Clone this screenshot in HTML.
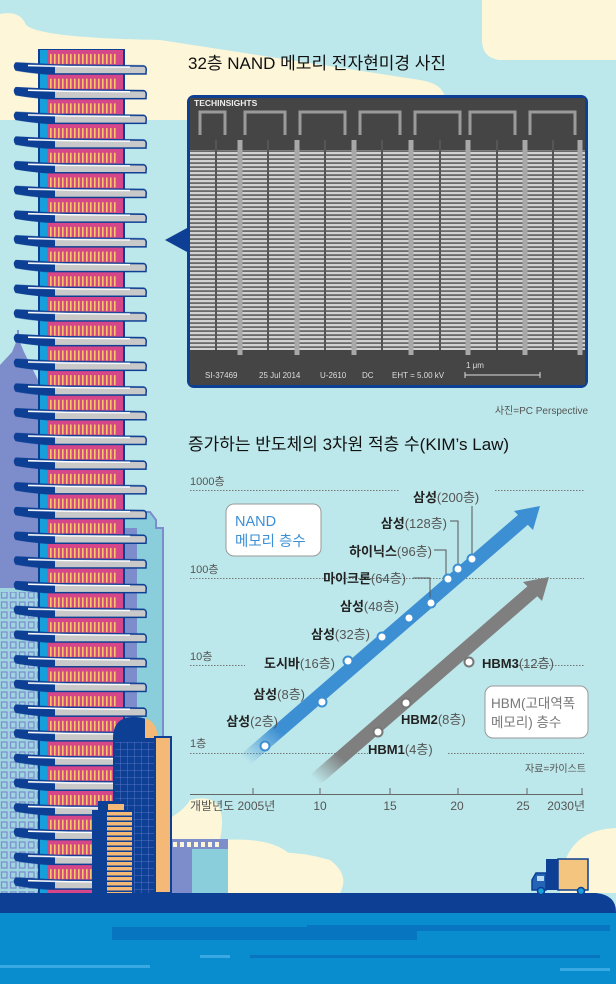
<!DOCTYPE html>
<html><head><meta charset="utf-8"><style>
html,body{margin:0;padding:0}
body{width:616px;height:984px;overflow:hidden;background:#bde8eb;font-family:"Liberation Sans","Noto Sans CJK KR",sans-serif}
svg{display:block}
</style></head><body>
<svg width="616" height="984" viewBox="0 0 616 984" xmlns="http://www.w3.org/2000/svg" font-family="'Liberation Sans','Noto Sans CJK KR',sans-serif">
<defs>
<pattern id="floor" x="0" y="50" width="616" height="24.7" patternUnits="userSpaceOnUse">
  <rect x="40" y="0" width="83" height="24.7" fill="#d6478a"/>
  <rect x="40" y="0" width="7" height="24.7" fill="#169fdb"/>
  <rect x="38" y="0" width="2" height="24.7" fill="#0d3f94"/>
  <rect x="123" y="0" width="2" height="24.7" fill="#0d3f94"/>
  <rect x="50" y="4" width="68" height="10" fill="url(#ystripe)"/>
  <path d="M16 13 L55 15 L144 16 Q147 17 146 22 L146 24 L55 24 Q40 24 16 20 Q13 16 16 13Z" fill="#c9c9c9" stroke="#0d3f94" stroke-width="1.5"/>
  <path d="M16 13 L55 15 L55 24 Q40 24 16 20 Q13 16 16 13Z" fill="#0d3f94"/>
  <path d="M28 15.5 L68 16.5 L130 17" stroke="#fff" stroke-width="1.5" fill="none"/>
</pattern>
<pattern id="ystripe" x="50" y="0" width="4" height="10" patternUnits="userSpaceOnUse">
  <rect x="0" y="0" width="1.6" height="10" fill="#f7c86a"/>
</pattern>
<pattern id="win" x="0" y="0" width="9" height="10" patternUnits="userSpaceOnUse">
  <rect x="1.5" y="2" width="5.5" height="6" fill="none" stroke="#7f8fd0" stroke-width="1.3"/>
</pattern>
<pattern id="grid2" x="113" y="0" width="7" height="7" patternUnits="userSpaceOnUse">
  <rect width="7" height="7" fill="#0d3f94"/>
  <path d="M0 0H7M0 0V7" stroke="#6b7fd0" stroke-width="0.8"/>
</pattern>
<pattern id="ostripe" x="0" y="812" width="10" height="5" patternUnits="userSpaceOnUse">
  <rect width="10" height="3.5" fill="#f4b877"/>
</pattern>
<pattern id="sem" x="190" y="0" width="3" height="4" patternUnits="userSpaceOnUse">
  <rect width="3" height="4" fill="#6a6a6a"/>
  <rect width="3" height="2.2" fill="#d2d2d2"/>
</pattern>
<linearGradient id="fadeB" x1="0" y1="1" x2="1" y2="0"><stop offset="0" stop-color="#3d8fd3" stop-opacity="0"/><stop offset="0.12" stop-color="#3d8fd3"/></linearGradient>
<linearGradient id="fadeG" x1="0" y1="1" x2="1" y2="0"><stop offset="0" stop-color="#7f7f7f" stop-opacity="0"/><stop offset="0.12" stop-color="#7f7f7f"/></linearGradient>
</defs>

<!-- clouds -->
<path d="M0 14 Q20 10 26 25 Q40 38 160 40 L420 80 Q445 84 445 100 L445 120 L0 120Z" fill="#fdf6d9"/>
<path d="M0 14 L0 120 L445 120 Q440 96 400 84 L0 84Z" fill="#fdf6d9"/>
<path d="M482 0 L616 0 L616 60 L500 60 Q482 58 482 40Z" fill="#fdf6d9"/>
<path d="M140 893 L140 830 Q180 818 190 800 Q230 790 220 840 Q300 835 300 880 L300 893Z" fill="#fdf6d9"/>
<path d="M228 893 L228 860 Q280 845 330 860 Q350 875 340 893Z" fill="#fdf6d9"/>
<path d="M560 893 Q560 830 616 828 L616 893Z" fill="#fdf6d9"/>

<!-- background buildings -->
<path d="M0 365 L12 352 L17 340 L17 330 L19 330 L19 340 L24 352 L38 380 L38 893 L0 893Z" fill="#7d8dcb"/>
<rect x="0" y="588" width="40" height="305" fill="#9fd5df"/>
<rect x="0" y="592" width="40" height="301" fill="url(#win)"/>
<path d="M123 512 L150 512 L156 520 L156 528 L163 528 L163 893 L123 893Z" fill="#8bcedb" stroke="#7d8dcb" stroke-width="2"/>
<rect x="123" y="528" width="14" height="365" fill="#7d8dcb"/>

<!-- main tower -->
<rect x="38" y="49" width="87" height="3" fill="#0d3f94"/>
<rect x="40" y="52" width="7" height="12" fill="#22c6dc"/>
<rect x="0" y="50" width="160" height="843" fill="url(#floor)"/>

<!-- front buildings -->
<rect x="170" y="840" width="58" height="53" fill="#8bcedb"/>
<rect x="170" y="840" width="22" height="53" fill="#7d8dcb"/>
<rect x="170" y="839" width="58" height="10" fill="#7d8dcb"/>
<g fill="#fdf6d9"><rect x="173" y="842" width="4" height="5"/><rect x="180" y="842" width="4" height="5"/><rect x="187" y="842" width="4" height="5"/><rect x="194" y="842" width="4" height="5"/><rect x="201" y="842" width="4" height="5"/><rect x="208" y="842" width="4" height="5"/><rect x="215" y="842" width="4" height="5"/></g>
<path d="M113 738 Q113 717 134 717 Q157 717 157 738 L157 893 L113 893Z" fill="#0d3f94"/>
<path d="M145 718 Q157 722 158 738 L145 738Z" fill="#f4b877"/>
<rect x="115" y="742" width="40" height="151" fill="url(#grid2)"/>
<rect x="155" y="737" width="16" height="156" fill="#f4b877" stroke="#0d3f94" stroke-width="2"/>
<rect x="92" y="810" width="42" height="83" fill="#0d3f94"/>
<rect x="98" y="801" width="26" height="10" fill="#0d3f94"/>
<rect x="108" y="804" width="16" height="6" fill="#f4b877"/>
<rect x="107" y="812" width="25" height="81" fill="url(#ostripe)"/>

<!-- ground & water -->
<path d="M0 893 L596 893 Q616 895 616 912 L616 913 L0 913Z" fill="#0d3f94"/>
<rect x="0" y="913" width="616" height="71" fill="#0a8dcf"/>
<rect x="112" y="927" width="305" height="13" fill="#0875c0"/>
<rect x="307" y="925" width="303" height="6" fill="#0875c0"/>
<rect x="0" y="913" width="150" height="14" fill="#0a8dcf"/>
<rect x="250" y="955" width="350" height="3" fill="#0875c0"/>
<rect x="200" y="955" width="30" height="3" fill="#39a9e3"/>
<rect x="0" y="965" width="150" height="3" fill="#39a9e3"/>
<rect x="560" y="968" width="50" height="3" fill="#39a9e3"/>

<!-- truck -->
<rect x="558" y="859" width="30" height="31" fill="#f4c57f" stroke="#0d3f94" stroke-width="1.5"/>
<rect x="546" y="859" width="12" height="31" fill="#0d3f94"/>
<path d="M536 873 L546 873 L546 890 L532 890 L532 880Z" fill="#2563b7" stroke="#0d3f94" stroke-width="1.5"/>
<rect x="537" y="876" width="7" height="5" fill="#b9dcf2"/>
<circle cx="541" cy="891" r="3.5" fill="#169fdb" stroke="#0d3f94" stroke-width="1.5"/>
<circle cx="581" cy="891" r="3.5" fill="#169fdb" stroke="#0d3f94" stroke-width="1.5"/>

<!-- SEM photo -->
<path d="M165 240 L187 228 L187 252Z" fill="#0d3f94"/>
<rect x="187" y="95" width="401" height="293" rx="7" fill="#0d3f94"/>
<rect x="190" y="98" width="395" height="287" rx="5" fill="#454545"/>
<rect x="190" y="150" width="395" height="200" fill="url(#sem)"/>
<g stroke="#a8a8a8" stroke-width="5" fill="none">
<path d="M240 140 L240 360M297 140 L297 360M354 140 L354 360M411 140 L411 360M468 140 L468 360M525 140 L525 360M580 140 L580 360"/>
</g>
<g stroke="#555" stroke-width="2">
<path d="M216 140V350M268 140V350M325 140V350M382 140V350M440 140V350M497 140V350M553 140V350"/>
</g>
<g fill="none" stroke="#9a9a9a" stroke-width="3"><path d="M200 135 V112 H225 V135 M245 135 V112 H285 V135 M300 135 V112 H345 V135 M360 135 V112 H400 V135 M415 135 V112 H460 V135 M470 135 V112 H515 V135 M530 135 V112 H575 V135"/></g>
<rect x="190" y="98" width="395" height="10" fill="#454545"/>
<rect x="190" y="355" width="395" height="30" fill="#454545"/>
<text x="194" y="106" font-size="8.5" font-weight="bold" fill="#eee">TECHINSIGHTS</text>
<g font-size="8" fill="#ddd"><text x="205" y="378">SI-37469</text><text x="259" y="378">25 Jul 2014</text><text x="320" y="378">U-2610</text><text x="362" y="378">DC</text><text x="392" y="378">EHT =  5.00 kV</text><text x="466" y="368">1 μm</text></g>
<path d="M465 372 V378 M465 375 H540 M540 372 V378" stroke="#ddd" stroke-width="1"/>

<text x="188" y="69" font-size="17" fill="#111">32층 NAND 메모리 전자현미경 사진</text>
<text x="588" y="414" font-size="10" fill="#555" text-anchor="end">사진=PC Perspective</text>
<text x="188" y="450" font-size="17" fill="#111">증가하는 반도체의 3차원 적층 수(KIM’s Law)</text>

<!-- chart grid -->
<g stroke="#777" stroke-width="1" stroke-dasharray="1.5,1.5">
<path d="M190 490.5H400M495 490.5H584"/>
<path d="M190 578.5H584"/>
<path d="M190 665.5H245M510 665.5H584"/>
<path d="M190 753.5H368M448 753.5H584"/>
</g>
<g font-size="11" fill="#555"><text x="190" y="485">1000층</text><text x="190" y="573">100층</text><text x="190" y="660">10층</text><text x="190" y="747">1층</text></g>
<path d="M190 794.5H583" stroke="#666"/>
<path d="M253 788V794M320 788V794M390 788V794M458 788V794M527 788V794M582 788V794" stroke="#666"/>
<g font-size="12" fill="#555"><text x="190" y="810">개발년도 2005년</text><text x="320" y="810" text-anchor="middle">10</text><text x="390" y="810" text-anchor="middle">15</text><text x="457" y="810" text-anchor="middle">20</text><text x="523" y="810" text-anchor="middle">25</text><text x="585" y="810" text-anchor="end">2030년</text></g>
<text x="586" y="772" font-size="10" fill="#555" text-anchor="end">자료=카이스트</text>

<!-- arrows -->
<path d="M245 760 L525 518" stroke="url(#fadeB)" stroke-width="14"/>
<path d="M540 506 L514 511 L533 530Z" fill="#3d8fd3"/>
<path d="M315 780 L535 589" stroke="url(#fadeG)" stroke-width="14"/>
<path d="M549 577 L523 582 L542 601Z" fill="#7f7f7f"/>

<!-- leaders -->
<g stroke="#555" fill="none" stroke-width="1"><path d="M472 506V556"/><path d="M450 521H458V566"/><path d="M434 550H446V576"/><path d="M413 578H430V600"/></g>

<!-- points -->
<g fill="#fff" stroke="#3d8fd3" stroke-width="2"><circle cx="265" cy="746" r="4.5"/><circle cx="322" cy="702" r="4.5"/><circle cx="348" cy="661" r="4.5"/><circle cx="382" cy="637" r="4.5"/><circle cx="409" cy="618" r="4.5"/><circle cx="431" cy="603" r="4.5"/><circle cx="448" cy="579" r="4.5"/><circle cx="458" cy="569" r="4.5"/><circle cx="472" cy="559" r="4.5"/></g>
<g fill="#fff" stroke="#777" stroke-width="2"><circle cx="378" cy="732" r="4.5"/><circle cx="406" cy="703" r="4.5"/><circle cx="469" cy="662" r="4.5"/></g>

<!-- labels -->
<g font-size="13" fill="#222">
<text x="413" y="502"><tspan font-weight="bold">삼성</tspan><tspan fill="#555">(200층)</tspan></text>
<text x="447" y="528" text-anchor="end"><tspan font-weight="bold">삼성</tspan><tspan fill="#555">(128층)</tspan></text>
<text x="432" y="556" text-anchor="end"><tspan font-weight="bold">하이닉스</tspan><tspan fill="#555">(96층)</tspan></text>
<text x="406" y="583" text-anchor="end"><tspan font-weight="bold">마이크론</tspan><tspan fill="#555">(64층)</tspan></text>
<text x="399" y="611" text-anchor="end"><tspan font-weight="bold">삼성</tspan><tspan fill="#555">(48층)</tspan></text>
<text x="370" y="639" text-anchor="end"><tspan font-weight="bold">삼성</tspan><tspan fill="#555">(32층)</tspan></text>
<text x="335" y="668" text-anchor="end"><tspan font-weight="bold">도시바</tspan><tspan fill="#555">(16층)</tspan></text>
<text x="305" y="699" text-anchor="end"><tspan font-weight="bold">삼성</tspan><tspan fill="#555">(8층)</tspan></text>
<text x="278" y="726" text-anchor="end"><tspan font-weight="bold">삼성</tspan><tspan fill="#555">(2층)</tspan></text>
<text x="482" y="668"><tspan font-weight="bold">HBM3</tspan><tspan fill="#555">(12층)</tspan></text>
<text x="401" y="724"><tspan font-weight="bold">HBM2</tspan><tspan fill="#555">(8층)</tspan></text>
<text x="368" y="754"><tspan font-weight="bold">HBM1</tspan><tspan fill="#555">(4층)</tspan></text>
</g>

<!-- boxes -->
<rect x="226" y="504" width="95" height="52" rx="8" fill="#fff" stroke="#999" stroke-width="1"/>
<text x="235" y="526" font-size="14.5" fill="#3a8fd6">NAND</text>
<text x="235" y="546" font-size="14.5" fill="#3a8fd6">메모리 층수</text>
<rect x="485" y="686" width="103" height="52" rx="8" fill="#fff" stroke="#999" stroke-width="1"/>
<text x="491" y="708" font-size="13.5" fill="#777">HBM(고대역폭</text>
<text x="491" y="727" font-size="13.5" fill="#777">메모리) 층수</text>
</svg>
</body></html>
